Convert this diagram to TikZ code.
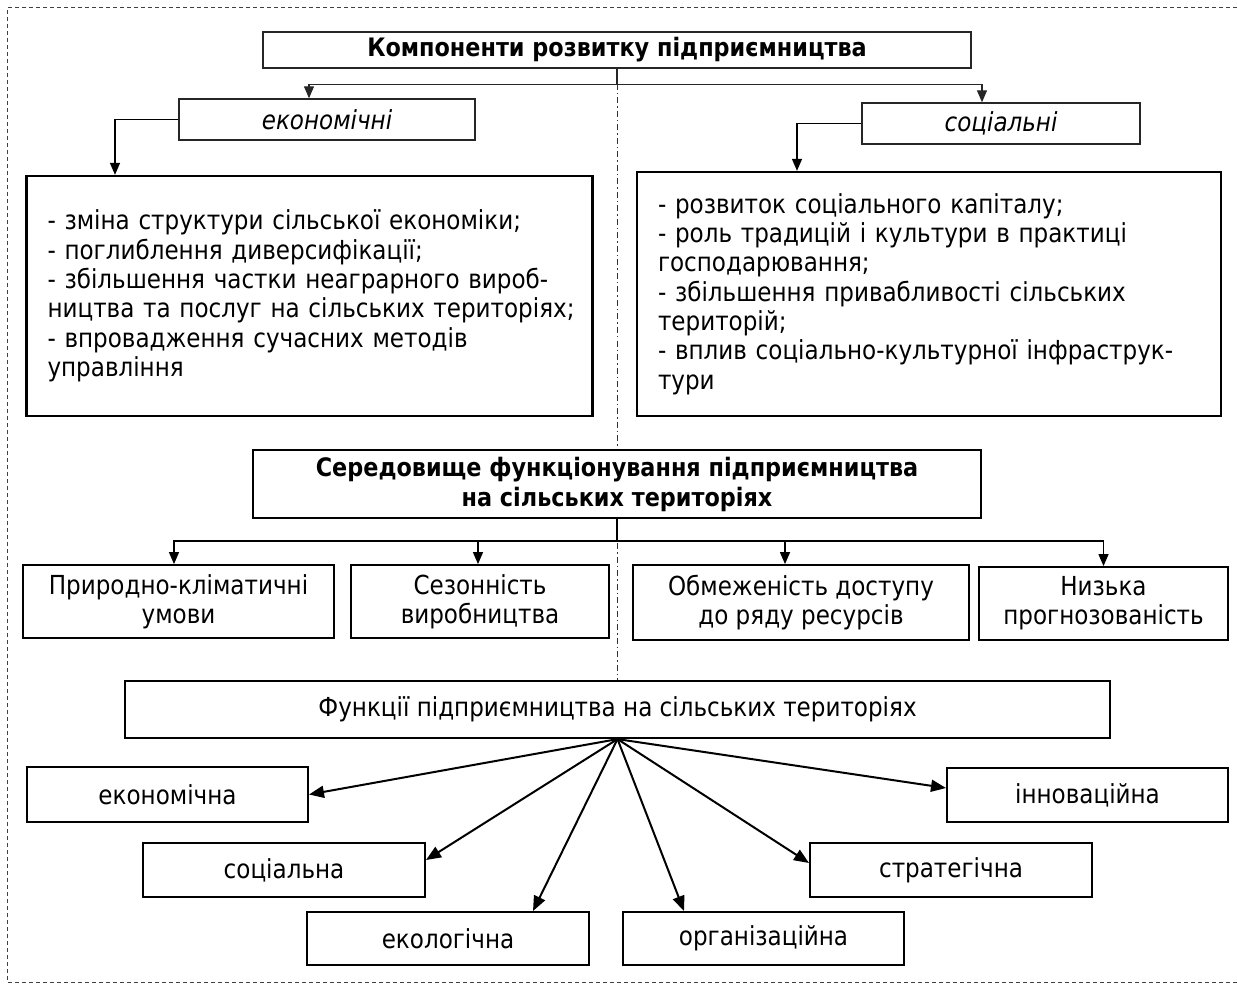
\documentclass[tikz,border=0pt]{standalone}
\usepackage{fontspec}
\setmainfont{DejaVu Sans}[FakeStretch=0.88]
\usetikzlibrary{arrows.meta,calc}
\begin{document}
\begin{tikzpicture}[x=1pt,y=-1pt,
  box/.style={draw=black,line width=1.8pt,fill=white,inner sep=0pt,align=center,
    font=\fontsize{26.2}{29}\selectfont},
  thinbox/.style={box,line width=1.4pt,draw=black!85},
  listbox/.style={draw=black,line width=2.3pt,fill=white,inner xsep=21pt,inner ysep=0pt,
    align=left,font=\fontsize{26.2}{29.3}\selectfont},
  boldtext/.style={font=\fontsize{25.4}{30}\selectfont\bfseries},
  arr/.style={-{Triangle[length=12pt,width=10pt]},line width=1.3pt},
  fan/.style={-{Triangle[length=15pt,width=12pt]},line width=2pt},
  border/.style={draw=black!75,line width=1pt,dash pattern=on 4pt off 3pt},
  divider/.style={draw=black!80,line width=0.8pt,dash pattern=on 6pt off 3pt on 1.5pt off 3pt}]
\useasboundingbox (0,0) rectangle (1237,984);
% outer frame and divider
\draw[border] (1237,8) -- (7,8) -- (7,982) -- (1237,982);
\draw[divider] (617,84) -- (617,681);
% top level
\node[thinbox,minimum width=708pt,minimum height=36pt,boldtext] (top) at (617,50) {Компоненти розвитку підприємництва};
\node[thinbox,minimum width=296pt,minimum height=41pt,font=\fontsize{26.2}{29}\selectfont\itshape] (eco) at (327,119.5) {економічні};
\node[thinbox,minimum width=278pt,minimum height=41pt,font=\fontsize{26.2}{29}\selectfont\itshape] (soc) at (1001,123.5) {соціальні};
\draw[arr,draw=black!85] (top.south) -- ++(0,16) -| ([xshift=-18pt]eco.north);
\draw[arr,draw=black!85] (top.south) -- ++(0,16) -| ([xshift=-19pt]soc.north);
% lists
\node[listbox,text width=524pt,minimum height=240pt] (ecobig) at (309.5,296) {%
\mbox{- зміна структури сільської економіки;}\\
\mbox{- поглиблення диверсифікації;}\\
\mbox{- збільшення частки неаграрного вироб-}\\
\mbox{ництва та послуг на сільських територіях;}\\
\mbox{- впровадження сучасних методів}\\
\mbox{управління}};
\node[listbox,text width=542pt,minimum height=244pt] (socbig) at (929,294) {%
\mbox{- розвиток соціального капіталу;}\\
\mbox{- роль традицій і культури в практиці}\\
\mbox{господарювання;}\\
\mbox{- збільшення привабливості сільських}\\
\mbox{територій;}\\
\mbox{- вплив соціально-культурної інфраструк-}\\
\mbox{тури}};
\draw[arr] (eco.west) -| ([xshift=-194.5pt]ecobig.north);
\draw[arr] (soc.west) -| ([xshift=-132pt]socbig.north);
% environment
\node[box,minimum width=728pt,minimum height=68pt,boldtext] (env) at (617,484) {Середовище функціонування підприємництва\\на сільських територіях};
\node[box,minimum width=311pt,minimum height=73pt] (e1) at (178.5,601.5) {Природно-кліматичні\\умови};
\node[box,minimum width=258pt,minimum height=73pt] (e2) at (480,601.5) {Сезонність\\виробництва};
\node[box,minimum width=336pt,minimum height=75pt] (e3) at (801,602.5) {Обмеженість доступу\\до ряду ресурсів};
\node[box,minimum width=249pt,minimum height=73pt] (e4) at (1103.5,603.5) {Низька\\прогнозованість};
\draw[line width=1.3pt] (env.south) -- ++(0,22) coordinate (ej);
\draw[arr] (ej) -| ([xshift=-4.5pt]e1.north);
\draw[arr] (ej) -| ([xshift=-2pt]e2.north);
\draw[arr] (ej) -| ([xshift=-16pt]e3.north);
\draw[arr] (ej) -| (e4.north);
% functions
\node[box,line width=2.2pt,minimum width=985pt,minimum height=57pt] (fun) at (617.5,709.5) {Функції підприємництва на сільських територіях};
\node[box,line width=2pt,minimum width=281pt,minimum height=55pt] (f1) at (167.5,794.5) {економічна};
\node[box,line width=2pt,minimum width=282pt,minimum height=54pt] (f2) at (284,870) {соціальна};
\node[box,line width=2pt,minimum width=282pt,minimum height=53pt] (f3) at (448,938.5) {екологічна};
\node[box,line width=2pt,minimum width=281pt,minimum height=53pt] (f4) at (763.5,938.5) {організаційна};
\node[box,line width=2pt,minimum width=282pt,minimum height=54pt] (f5) at (951,870) {стратегічна};
\node[box,line width=2pt,minimum width=281pt,minimum height=54pt] (f6) at (1087.5,795) {інноваційна};
\draw[fan] (fun.south) -- (f1.east);
\draw[fan] (fun.south) -- ([yshift=10pt]f2.east);
\draw[fan] (fun.south) -- ([xshift=85pt]f3.north);
\draw[fan] (fun.south) -- ([xshift=-79.5pt]f4.north);
\draw[fan] (fun.south) -- ([yshift=7pt]f5.west);
\draw[fan] (fun.south) -- ([yshift=7pt]f6.west);
\end{tikzpicture}
\end{document}
